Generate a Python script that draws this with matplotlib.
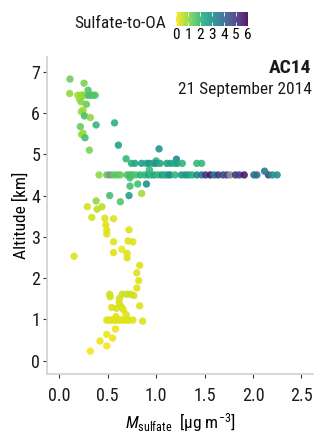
import numpy as np
import matplotlib
matplotlib.use("Agg")
import matplotlib.pyplot as plt

plt.rcParams.update({
    "font.family": ["Roboto Condensed", "Roboto", "DejaVu Sans"],
    "font.size": 12,
    "mathtext.fontset": "custom",
    "mathtext.rm": "Roboto Condensed",
    "mathtext.it": "Roboto Condensed:italic",
    "text.color": "#1a1a1a",
})

# ------------------ DATA ------------------ #
# sulfate mass [ug m-3]
sulfate = [
    # above 5 km
    0.11, 0.255, 0.107, 0.297,
    0.19, 0.22, 0.235, 0.25, 0.28, 0.30, 0.32, 0.35, 0.37,
    0.21, 0.224, 0.28, 0.245, 0.227, 0.26, 0.32, 0.38, 0.57, 0.217,
    0.245, 0.23, 0.265, 0.61, 0.31, 1.03,
    # 4.8 km band
    0.69, 1.21, 1.00,
    0.745, 0.78, 0.85, 0.90, 0.93, 0.97, 1.00, 1.04, 1.11, 1.15, 1.19,
    1.22, 1.27, 1.42, 1.47,
    # 4.5 km band
    0.41, 0.49, 0.525, 0.56, 0.60, 0.63, 0.70, 0.73, 0.755, 0.79, 0.835,
    0.88, 0.92, 0.95, 0.98, 1.02, 1.06, 1.09, 1.12, 1.145, 1.195, 1.26,
    1.30, 1.334, 1.37, 1.42, 1.47, 1.51, 1.56, 1.60, 1.64, 1.69, 1.73,
    1.765, 1.82, 1.86, 1.91, 2.01, 2.04, 2.16, 2.20, 2.25, 2.12, 0.93,
    # below the band
    0.73, 0.81, 0.90, 0.73, 0.85, 0.72, 0.52, 0.38, 0.63,
    0.29, 0.44, 0.39, 0.335, 0.47, 0.56,
    0.48, 0.49, 0.72, 0.49, 0.56, 0.71, 0.76,
    0.645, 0.56, 0.70, 0.70, 0.152,
    0.83, 0.80, 0.82, 0.80,
    0.52, 0.525, 0.65, 0.70, 0.74, 0.77, 0.62, 0.62, 0.83,
    0.54, 0.59, 0.645, 0.66, 0.69, 0.585,
    0.49, 0.51, 0.535, 0.56, 0.575, 0.59, 0.62, 0.645, 0.66, 0.69, 0.72, 0.76,
    0.86, 0.58, 0.49, 0.55, 0.42, 0.49, 0.32,
]

# altitude [km]
altitude = [
    6.82, 6.72, 6.47, 6.55,
    6.43, 6.43, 6.43, 6.43, 6.43, 6.43, 6.43, 6.43, 6.43,
    6.33, 6.27, 6.21, 6.07, 6.03, 5.93, 5.89, 5.71, 5.76, 5.67,
    5.51, 5.48, 5.40, 5.22, 5.10, 5.13,
    4.89, 4.88, 4.84,
    4.78, 4.78, 4.78, 4.78, 4.78, 4.78, 4.78, 4.78, 4.78, 4.78, 4.78,
    4.78, 4.78, 4.78, 4.78,
    4.50, 4.50, 4.50, 4.50, 4.50, 4.50, 4.50, 4.50, 4.50, 4.50, 4.50,
    4.50, 4.50, 4.50, 4.50, 4.50, 4.50, 4.50, 4.50, 4.50, 4.50, 4.50,
    4.50, 4.50, 4.50, 4.50, 4.50, 4.50, 4.50, 4.50, 4.50, 4.50, 4.50,
    4.50, 4.50, 4.50, 4.50, 4.50, 4.50, 4.50, 4.50, 4.50, 4.59, 4.62,
    4.43, 4.28, 4.28, 4.23, 4.05, 4.00, 4.00, 3.87, 3.85,
    3.73, 3.73, 3.67, 3.47, 3.45, 3.44,
    3.29, 3.16, 3.17, 3.07, 2.88, 2.90, 2.88,
    2.70, 2.62, 2.60, 2.49, 2.53,
    2.31, 2.13, 1.94, 1.76,
    1.61, 1.55, 1.61, 1.61, 1.61, 1.58, 1.51, 1.40, 1.33,
    1.29, 1.27, 1.29, 1.24, 1.12, 1.07,
    0.985, 0.985, 0.985, 0.985, 0.985, 0.985, 0.985, 0.985, 0.985, 0.985, 0.985, 0.985,
    0.96, 0.77, 0.64, 0.55, 0.48, 0.36, 0.235,
]

# sulfate-to-OA ratio (nan = no value, drawn grey)
ratio = [
    1.3, 1.2, 1.0, 1.6,
    0.8, 0.8, 0.9, 0.9, 1.0, 1.6, 1.7, 1.7, 1.6,
    0.9, 1.0, 1.4, 0.8, 0.9, 1.8, 1.0, 2.0, 2.2, 1.4,
    0.9, 0.9, 1.8, 2.6, 1.2, 2.8,
    2.0, 3.2, 2.0,
    2.2, 2.4, 2.6, 2.4, 2.8, 2.4, 3.0, 2.4, 2.5, 2.6, 2.3,
    2.6, 2.1, 2.0, 2.0,
    1.0, 1.5, np.nan, 1.5, 1.6, 1.4, 1.8, 1.7, 1.8, 1.6, 2.2,
    2.0, 2.6, 2.0, 2.4, 2.0, 2.8, 2.2, 2.6, 3.2, 2.0, 2.6,
    2.8, 2.8, 2.2, 3.2, 3.5, 5.0, 5.7, 3.5, 5.0, 4.6, 4.8,
    np.nan, 5.0, 4.8, 5.6, 3.8, 3.8, 4.8, 3.0, 3.0, 3.6, 2.0,
    1.8, 1.8, 3.0, 1.8, 0.8, 2.6, 1.8, 1.0, 1.6,
    0.4, 0.6, 0.6, 0.4, 0.3, 0.3,
    0.3, 0.3, 0.3, 0.3, 0.3, 0.3, 0.3,
    0.2, 0.3, 0.3, 0.3, 0.3,
    0.3, 0.3, 0.3, 0.3,
    0.4, 0.4, 0.5, 0.5, 0.5, 0.4, 0.4, 0.4, 0.3,
    0.3, 0.4, 0.4, 0.3, 0.3, 0.3,
    0.3, 0.3, 0.3, 0.3, 0.3, 0.3, 0.3, 0.3, 0.3, 0.3, 0.3, 0.3,
    0.3, 0.2, 0.2, 0.2, 0.2, 0.1, 0.1,
]

cbar_ticks = [0, 1, 2, 3, 4, 5, 6]

# ------------------ PLOT ------------------ #
fig = plt.figure(figsize=(3.2, 4.4), dpi=100)
ax = fig.add_axes([0.147, 0.15, 0.831, 0.72])

cmap = plt.get_cmap("viridis_r").with_extremes(bad="#8c8c8c")
sc = ax.scatter(sulfate, altitude, c=ratio, cmap=cmap, vmin=0, vmax=6,
                s=28, alpha=0.9, linewidths=0, plotnonfinite=True)

ax.set_xlim(-0.127, 2.62)
ax.set_ylim(-0.32, 7.35)
ax.set_xticks([0.0, 0.5, 1.0, 1.5, 2.0, 2.5])
ax.set_xticklabels(["0.0", "0.5", "1.0", "1.5", "2.0", "2.5"])
ax.set_yticks(range(8))

for side in ["top", "right"]:
    ax.spines[side].set_visible(False)
for side in ["left", "bottom"]:
    ax.spines[side].set_color("#cfcfcf")
    ax.spines[side].set_linewidth(1.2)
ax.tick_params(length=3, width=0.8, color="#333333", labelsize=13,
               labelcolor="#1a1a1a")
ax.tick_params(axis="x", pad=6)
ax.tick_params(axis="y", pad=2)

ax.set_ylabel("Altitude [km]", fontsize=12.5, labelpad=2)
ax.set_xlabel(r"$M_{\mathrm{sulfate}}$  [μg m$^{-3}$]", fontsize=12.5, labelpad=5)

ax.text(0.995, 0.965, "AC14", transform=ax.transAxes, ha="right", va="center",
        fontsize=14, fontweight="bold")
ax.text(0.995, 0.899, "21 September 2014", transform=ax.transAxes, ha="right",
        va="center", fontsize=12.5)

# colour bar on top
cax = fig.add_axes([0.55, 0.9416, 0.225, 0.0305])
cb = fig.colorbar(sc, cax=cax, orientation="horizontal", ticks=cbar_ticks)
cb.outline.set_visible(False)
cax.tick_params(direction="in", length=3, width=0.6, color="white",
                labelsize=11, pad=2, top=True, bottom=True)
fig.text(0.52, 0.947, "Sulfate-to-OA", ha="right", va="center", fontsize=12.5)

plt.savefig("out.png", dpi=100)
plt.close()
